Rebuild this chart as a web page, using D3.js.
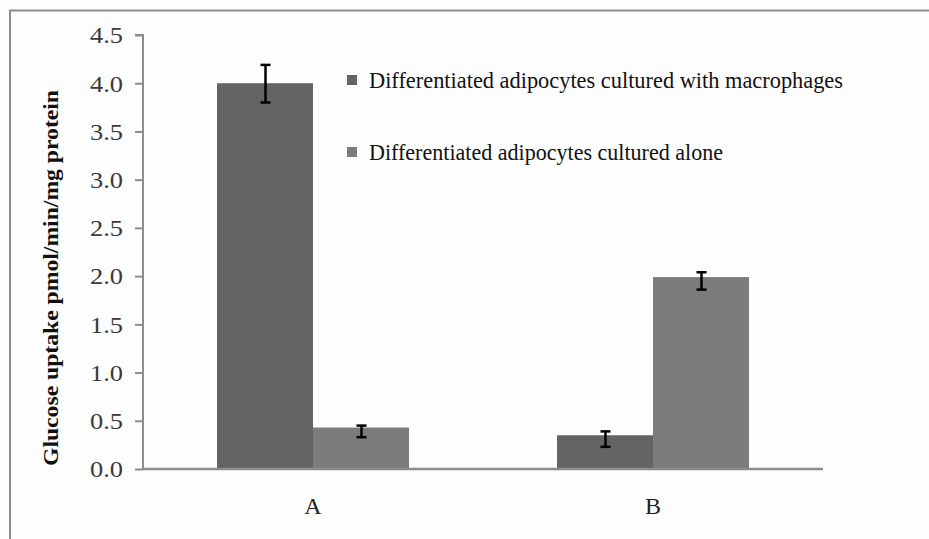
<!DOCTYPE html>
<html>
<head>
<meta charset="utf-8">
<script src="https://cdn.jsdelivr.net/npm/d3@7"></script>
<style>
  html, body { margin: 0; padding: 0; background: #fdfdfd; overflow: hidden; }
  svg { display: block; }
  text { font-family: "Liberation Serif", "Times New Roman", "DejaVu Serif", serif; fill: #111; }
</style>
</head>
<body>
<svg id="chart" width="929" height="539"></svg>
<script>
const categories = ["A", "B"];
const seriesNames = [
  "Differentiated adipocytes cultured with macrophages",
  "Differentiated adipocytes cultured alone"
];
const withMacrophages = [4.00, 0.35];
const alone = [0.43, 1.99];
const withMacrophagesErrLow = [3.80, 0.23];
const withMacrophagesErrHigh = [4.19, 0.39];
const aloneErrLow = [0.33, 1.86];
const aloneErrHigh = [0.45, 2.04];
const yTicks = [0, 0.5, 1.0, 1.5, 2.0, 2.5, 3.0, 3.5, 4.0, 4.5];
const yTitle = "Glucose uptake pmol/min/mg protein";
const colors = ["#646464", "#7c7c7c"];

const svg = d3.select("#chart");

// outer frame: top and left edges only (the rest is cropped in the original)
svg.append("path").attr("d", "M10,540V10.5H930")
  .attr("fill", "none").attr("stroke", "#8c8c8c").attr("stroke-width", 2);

const x = d3.scaleBand().domain(categories).range([143, 823]);
const y = d3.scaleLinear().domain([0, 4.5]).range([469, 35]);
const groupPad = 74;
const x1 = d3.scaleBand().domain([0, 1])
  .range([groupPad, x.bandwidth() - groupPad]);

const series = [
  { vals: withMacrophages, lo: withMacrophagesErrLow, hi: withMacrophagesErrHigh },
  { vals: alone, lo: aloneErrLow, hi: aloneErrHigh }
];

// bars
series.forEach((s, si) => {
  svg.append("g").selectAll("rect").data(categories).join("rect")
    .attr("x", c => x(c) + x1(si))
    .attr("width", x1.bandwidth())
    .attr("y", (c, i) => y(s.vals[i]))
    .attr("height", (c, i) => y(0) - y(s.vals[i]))
    .attr("fill", colors[si]);
});

// error bars
series.forEach((s, si) => {
  const g = svg.append("g").attr("stroke", "#000").attr("stroke-width", 2.5);
  categories.forEach((c, i) => {
    const cx = Math.round(x(c) + x1(si) + x1.bandwidth() / 2) + 0.5;
    g.append("line").attr("x1", cx).attr("x2", cx)
      .attr("y1", y(s.hi[i])).attr("y2", y(s.lo[i]));
    [s.hi[i], s.lo[i]].forEach(v => {
      g.append("line").attr("x1", cx - 5).attr("x2", cx + 5)
        .attr("y1", y(v)).attr("y2", y(v));
    });
  });
});

// y axis
const yAxis = d3.axisLeft(y).tickValues(yTicks)
  .tickFormat(d3.format(".1f")).tickSize(8).tickPadding(12);
const gy = svg.append("g").attr("transform", "translate(143,0)").call(yAxis);
gy.attr("font-family", null).attr("font-size", null);
gy.select(".domain").attr("stroke", "#8c8c8c").attr("stroke-width", 2)
  .attr("d", "M-8,35H0V469");
gy.selectAll(".tick line").attr("stroke", "#8c8c8c").attr("stroke-width", 2);
gy.selectAll(".tick text")
  .style("font-size", "23px").style("fill", "#3a3a3a")
  .attr("textLength", 33).attr("lengthAdjust", "spacingAndGlyphs")
  .attr("dy", "0.34em");

// x axis
const xAxis = d3.axisBottom(x).tickSize(0).tickPadding(37);
const gx = svg.append("g").attr("transform", "translate(0,469)").call(xAxis);
gx.attr("font-family", null).attr("font-size", null);
gx.select(".domain").attr("stroke", "#8c8c8c").attr("stroke-width", 2.5)
  .attr("d", "M143,0H823");
gx.selectAll(".tick text").style("font-size", "24px").style("fill", "#222")
  .attr("dy", "0.35em");

// y title
svg.append("text")
  .attr("transform", "translate(58,278) rotate(-90)")
  .attr("text-anchor", "middle")
  .attr("font-weight", "bold").style("font-size", "22px")
  .attr("textLength", 376).attr("lengthAdjust", "spacingAndGlyphs")
  .text(yTitle);

// legend
const legendY = [80, 152];
const legendLen = [474, 354];
seriesNames.forEach((name, i) => {
  svg.append("rect").attr("x", 347).attr("y", legendY[i] - 5)
    .attr("width", 10).attr("height", 10).attr("fill", colors[i]);
  svg.append("text").attr("x", 369).attr("y", legendY[i] + 8)
    .style("font-size", "23px")
    .attr("textLength", legendLen[i]).attr("lengthAdjust", "spacingAndGlyphs")
    .text(name);
});
</script>
</body>
</html>
